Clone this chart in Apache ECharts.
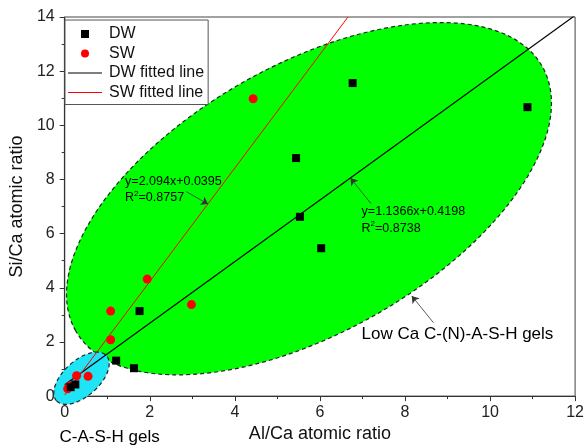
<!DOCTYPE html>
<html>
<head>
<meta charset="utf-8">
<script src="https://cdn.jsdelivr.net/npm/echarts@6/dist/echarts.min.js"></script>
<style>
    html, body {margin: 0; padding: 0; background: #fff;}
    #main {width: 587px; height: 448px;}
</style>
</head>
<body>
<div id="main"></div>
<script>
// values
const dwPoints = [[0.14, 0.33], [0.25, 0.43], [1.21, 1.31], [1.63, 1.03], [1.76, 3.14],
    [5.44, 8.79], [5.53, 6.62], [6.03, 5.46], [6.77, 11.56], [10.88, 10.67]];
const swPoints = [[0.07, 0.27], [0.12, 0.38], [0.28, 0.75], [0.55, 0.73], [1.08, 2.08],
    [1.08, 3.14], [1.94, 4.32], [2.98, 3.38], [4.43, 10.98]];
// fitted lines, end points
const dwLine = [[0, 0.42], [12, 14.06]];
const swLine = [[0, 0.04], [6.66, 14]];

// gel regions: centre + two half axes (data units)
const greenRegion = {center: [5.744, 7.29], u: [5.484, 4.883], v: [1.544, -4.304]};
const blueRegion = {center: [0.395, 0.66], u: [0.588, 0.833], v: [0.280, -0.490]};

// notes: text anchor (left, middle) and arrow from -> to
const notes = [
    {value: [1.42, 7.62], text: 'y=2.094x+0.0395\nR{sup|2}=0.8757', size: 12.5},
    {value: [6.98, 6.50], text: 'y=1.1366x+0.4198\nR{sup|2}=0.8738', size: 12.5},
    {value: [6.98, 2.30], text: 'Low Ca C-(N)-A-S-H gels', size: 17},
    {value: [-0.12, -1.52], text: 'C-A-S-H gels', size: 17}
];
const arrows = [
    [[2.86, 7.55], [3.37, 7.09]],
    [[7.20, 7.11], [6.72, 8.05]],
    [[8.67, 2.71], [8.16, 3.70]],
    [[0.88, -1.06], [0.46, -0.14]]
];

const font = "'Liberation Sans', Arial, sans-serif";

// 椭圆区域
let ellipseItem = (region, fill) => (params, api) => {
    const c = api.coord(region.center);
    const pu = api.coord([region.center[0] + region.u[0], region.center[1] + region.u[1]]);
    const pv = api.coord([region.center[0] + region.v[0], region.center[1] + region.v[1]]);
    return {
        type: 'ellipse',
        x: c[0],
        y: c[1],
        rotation: Math.atan2(-(pu[1] - c[1]), pu[0] - c[0]),
        shape: {
            cx: 0, cy: 0,
            rx: Math.hypot(pu[0] - c[0], pu[1] - c[1]),
            ry: Math.hypot(pv[0] - c[0], pv[1] - c[1])
        },
        style: {fill: fill, stroke: '#222', lineWidth: 1.2, lineDash: [4, 3]}
    };
};

let chart = echarts.init(document.getElementById('main'));
let option = {
    animation: false,
    textStyle: {fontFamily: font},
    grid: {left: 62, right: 9, top: 17, bottom: 49, show: true, borderColor: '#444', borderWidth: 1},
    legend: {
        data: [
            {name: 'DW', icon: 'path://M0,0H1V1H0Z'},
            {name: 'SW', icon: 'circle'},
            {name: 'DW fitted line', icon: 'path://M0,0H34V1.2H0Z'},
            {name: 'SW fitted line', icon: 'path://M0,0H34V1H0Z'}
        ],
        symbolKeepAspect: true,
        left: 65, top: 20,
        orient: 'vertical',
        backgroundColor: '#fff',
        borderColor: '#555', borderWidth: 1, borderRadius: 0,
        padding: [6, 4, 4, 3],
        itemWidth: 34, itemHeight: 8, itemGap: 3.5,
        textStyle: {fontSize: 16, color: '#111', fontFamily: font, padding: [0, 0, 0, 2]}
    },
    xAxis: {
        type: 'value', min: 0, max: 12, interval: 2,
        name: 'Al/Ca atomic ratio', nameLocation: 'middle', nameGap: 28,
        nameTextStyle: {fontSize: 18, color: '#111'},
        axisLine: {lineStyle: {color: '#333', width: 1.2}},
        axisTick: {inside: false, length: 5, lineStyle: {color: '#333'}},
        minorTick: {show: true, splitNumber: 2, length: 3, lineStyle: {color: '#333'}},
        axisLabel: {fontSize: 16, color: '#222', margin: 8},
        splitLine: {show: false}
    },
    yAxis: {
        type: 'value', min: 0, max: 14, interval: 2,
        name: 'Si/Ca atomic ratio', nameLocation: 'middle', nameGap: 34,
        nameTextStyle: {fontSize: 18, color: '#111'},
        axisLine: {lineStyle: {color: '#333', width: 1.2}},
        axisTick: {inside: false, length: 5, lineStyle: {color: '#333'}},
        minorTick: {show: true, splitNumber: 2, length: 3, lineStyle: {color: '#333'}},
        axisLabel: {fontSize: 16, color: '#222', margin: 10},
        splitLine: {show: false}
    },
    series: [
        {
            type: 'custom', name: 'green', z: 1, clip: false, silent: true,
            renderItem: ellipseItem(greenRegion, '#00ff00'),
            data: [greenRegion.center]
        },
        {
            type: 'custom', name: 'blue', z: 1, clip: false, silent: true,
            renderItem: ellipseItem(blueRegion, '#1ee4f6'),
            data: [blueRegion.center]
        },
        {
            name: 'DW fitted line', type: 'line', data: dwLine, z: 3,
            symbol: 'none', lineStyle: {color: '#000', width: 1.2}, itemStyle: {color: '#000'}
        },
        {
            name: 'SW fitted line', type: 'line', data: swLine, z: 3,
            symbol: 'none', lineStyle: {color: '#ff0000', width: 1}, itemStyle: {color: '#ff0000'}
        },
        {
            name: 'DW', type: 'scatter', data: dwPoints, z: 5,
            symbol: 'rect', symbolSize: 8, itemStyle: {color: '#000', opacity: 1}
        },
        {
            name: 'SW', type: 'scatter', data: swPoints, z: 4,
            symbol: 'circle', symbolSize: 9, itemStyle: {color: '#ff0000', opacity: 1}
        },
        {
            // 注释文字 + 箭头
            name: 'notes', type: 'scatter', z: 6, clip: false, silent: true,
            symbolSize: 0,
            itemStyle: {opacity: 1, color: '#000'},
            data: notes.map(n => ({
                value: n.value,
                text: n.text,
                label: {fontSize: n.size, lineHeight: n.size + 4}
            })),
            label: {
                show: true, position: 'right', distance: 0,
                color: '#000', opacity: 1, fontFamily: font,
                formatter: p => p.data.text,
                rich: {sup: {fontSize: 8, verticalAlign: 'top', lineHeight: 10, color: '#000'}}
            },
            markLine: {
                silent: true,
                symbol: ['none', 'arrow'],
                symbolSize: 7,
                label: {show: false},
                lineStyle: {color: '#333', width: 0.8, type: 'solid', opacity: 1},
                data: arrows.map(a => [{coord: a[0]}, {coord: a[1]}])
            }
        }
    ]
};
chart.setOption(option);
</script>
</body>
</html>
